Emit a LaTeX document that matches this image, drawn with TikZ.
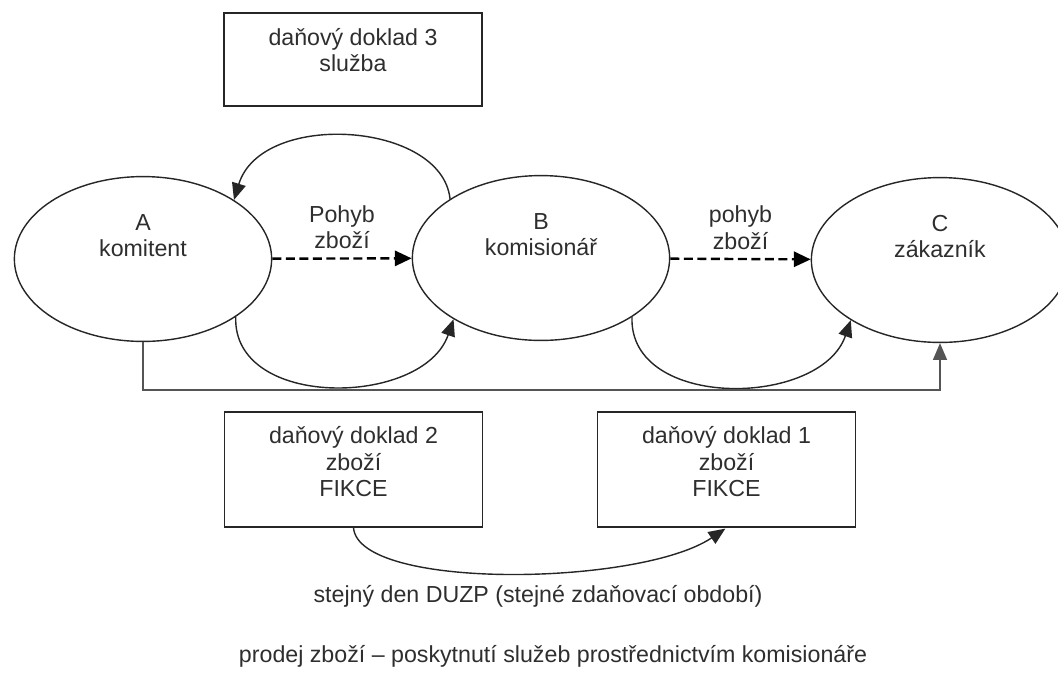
\documentclass[tikz,border=0pt]{standalone}
\usepackage{fontspec}
\setmainfont{Liberation Sans}
\usepackage{tikz}
\usetikzlibrary{shapes.geometric, arrows.meta}
\definecolor{inkline}{HTML}{262626}
\definecolor{inktext}{HTML}{2E2E2E}
\definecolor{rulegray}{HTML}{555555}

\begin{document}
\begin{tikzpicture}[
  x=0.025cm, y=0.025cm,
  font=\fontsize{16.5}{18.8}\selectfont,
  every node/.style={text=inktext},
  party/.style={ellipse,draw=inkline,line width=1pt,minimum width=6.43cm,minimum height=4.12cm,inner sep=0pt},
  doc/.style={rectangle,draw=inkline,line width=1pt,minimum width=6.45cm,inner sep=0pt},
  txt/.style={align=center,inner sep=0pt},
  flow/.style={-{Triangle[length=4.2mm,width=3.8mm]},draw=black,line width=1.7pt,dash pattern=on 6.4pt off 3.2pt},
  link/.style={-{Triangle[length=4.2mm,width=3.5mm]},draw=inkline,line width=1pt}
]
\useasboundingbox (0,0) rectangle (1058,-679);

\node[party] (A) at (143,-259) {};   % komitent
\node[party] (B) at (541,-258) {};   % komisionar
\node[party] (C) at (940,-260) {};   % zakaznik
\node at (A.center) [txt,yshift=0.59cm] (Atxt) {A\\komitent};
\node at (B.center) [txt,yshift=0.59cm] (Btxt) {B\\komisionář};
\node at (C.center) [txt,yshift=0.59cm] (Ctxt) {C\\zákazník};

\node[doc,minimum height=2.33cm] (d3) at (353,-59.5) {};
\node[doc,minimum height=2.88cm] (d2) at (353.5,-469.5) {};
\node[doc,minimum height=2.88cm] (d1) at (726.5,-469.5) {};
\node at (d3.center) [txt,yshift=0.24cm] (d3txt) {daňový doklad 3\\služba};
\node at (d2.center) [txt,yshift=0.19cm] (d2txt) {daňový doklad 2\\zboží\\FIKCE};
\node at (d1.center) [txt,yshift=0.19cm] (d1txt) {daňový doklad 1\\zboží\\FIKCE};

\draw[flow] (A) -- node[txt,above=6pt] {Pohyb\\zboží} (B);
\draw[flow] (B) -- node[txt,above=6pt] {pohyb\\zboží} (C);

\draw[link] (B.147) to[out=96,in=73,out distance=1.95cm,in distance=2.35cm] (A.33);
\draw[link] (A.328) to[out=268,in=251,out distance=2.33cm,in distance=2.32cm] (B.215);
\draw[link] (B.327) to[out=268,in=251,out distance=2.33cm,in distance=2.32cm] (C.214);
\draw[link,draw=rulegray] (A.south) -- ++(0,-48) -| (C.south);

\draw[link,shorten >=1pt] (d2.south) to[out=275,in=214,out distance=1.58cm,in distance=2.6cm] (d1.south);

\node[txt] (duzp) at (538,-596) {stejný den DUZP (stejné zdaňovací období)};
\node[txt] (title) at (553,-656) {prodej zboží – poskytnutí služeb prostřednictvím komisionáře};
\end{tikzpicture}
\end{document}
